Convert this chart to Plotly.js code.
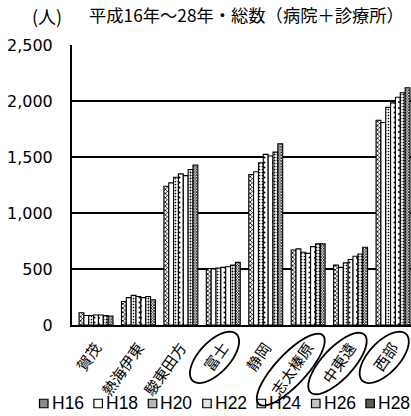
<!DOCTYPE html>
<html>
<head>
<meta charset="utf-8">
<script src="https://cdn.plot.ly/plotly-3.0.1.min.js"></script>
<style>
  html, body { margin: 0; padding: 0; background: #fff; }
  #chart { width: 411px; height: 416px; }
</style>
</head>
<body>
<div id="chart"></div>
<script>
// Areas (secondary medical districts), left to right
const areas = ['賀茂', '熱海伊東', '駿東田方', '富士', '静岡', '志太榛原', '中東遠', '西部'];
// Areas whose labels are ringed
const circledAreas = ['富士', '志太榛原', '中東遠', '西部'];

// Survey years
const seriesNames = ['H16', 'H18', 'H20', 'H22', 'H24', 'H26', 'H28'];

// Totals (hospitals + clinics), persons
const h16 = [110, 210, 1240, 505, 1345, 670, 535, 1830];
const h18 = [85, 245, 1270, 500, 1370, 680, 515, 1810];
const h20 = [85, 265, 1320, 510, 1450, 650, 555, 1945];
const h22 = [90, 255, 1350, 515, 1525, 640, 585, 1985];
const h24 = [90, 245, 1335, 520, 1510, 700, 615, 2035];
const h26 = [85, 255, 1390, 535, 1545, 725, 635, 2075];
const h28 = [80, 225, 1430, 560, 1620, 725, 695, 2120];

const yTicks = [0, 500, 1000, 1500, 2000, 2500];

const seriesValues = [h16, h18, h20, h22, h24, h26, h28];

// Fill textures of each year's bars
const patternStyles = [
  { shape: 'x', size: 3, solidity: 0.45 },
  { shape: '', size: 4, solidity: 0.1 },
  { shape: '.', size: 3, solidity: 0.25 },
  { shape: '.', size: 5, solidity: 0.12 },
  { shape: '.', size: 6, solidity: 0.08 },
  { shape: '.', size: 3, solidity: 0.35 },
  { shape: 'x', size: 2, solidity: 0.6 }
];
// Flat tones used for the small legend swatches
const swatchFills = ['#8a8a8a', '#ffffff', '#b5b5b5', '#e2e2e2', '#f0f0f0', '#c4c4c4', '#5a5a5a'];

const traces = seriesNames.map((name, i) => ({
  type: 'bar',
  name: name,
  x: areas,
  y: seriesValues[i],
  showlegend: false,
  marker: {
    color: '#ffffff',
    line: { color: '#000', width: 1.1 },
    pattern: {
      shape: patternStyles[i].shape,
      size: patternStyles[i].size,
      solidity: patternStyles[i].solidity,
      fgcolor: '#000',
      bgcolor: '#fff',
      fillmode: 'replace'
    }
  },
  hoverinfo: 'x+y+name'
}));

const W = 411, H = 416;
const M = { l: 72, r: 0, t: 45, b: 91 };
const plotW = W - M.l - M.r;
const plotH = H - M.t - M.b;
const pxToPaperX = px => (px - M.l) / plotW;
const pxToPaperY = py => 1 - (py - M.t) / plotH;

// Hand-built legend row: swatch + year label
const legendStart = 39.5, legendStep = 54.4, swatchSize = 8.5, legendY = 403.5;
const legendShapes = seriesNames.map((name, i) => {
  const x0 = legendStart + i * legendStep;
  return {
    type: 'rect', xref: 'paper', yref: 'paper',
    x0: pxToPaperX(x0), x1: pxToPaperX(x0 + swatchSize),
    y0: pxToPaperY(legendY - swatchSize / 2), y1: pxToPaperY(legendY + swatchSize / 2),
    line: { color: '#000', width: 1.2 },
    fillcolor: swatchFills[i]
  };
});
const legendLabels = seriesNames.map((name, i) => ({
  xref: 'paper', yref: 'paper',
  x: pxToPaperX(legendStart + i * legendStep + swatchSize + 1.5),
  y: pxToPaperY(legendY),
  xanchor: 'left', yanchor: 'middle',
  text: name, showarrow: false,
  font: { family: 'Liberation Sans, Arial, sans-serif', size: 17.5, color: '#000' }
}));

const layout = {
  width: W, height: H,
  margin: M,
  paper_bgcolor: '#fff', plot_bgcolor: '#fff',
  barmode: 'group',
  bargap: 0.2,
  bargroupgap: 0,
  showlegend: false,
  title: {
    text: '平成16年～28年・総数（病院＋診療所）',
    x: 89 / W, xanchor: 'left', xref: 'container',
    y: 1 - 16 / H, yanchor: 'middle', yref: 'container',
    font: { family: 'Noto Sans CJK JP, sans-serif', size: 17.3, color: '#000' }
  },
  xaxis: {
    type: 'category',
    range: [-0.566, 7.424],
    showline: true, linecolor: '#000', linewidth: 2,
    showgrid: false, zeroline: false,
    ticks: 'outside', ticklen: 6, tickcolor: 'rgba(0,0,0,0)',
    tickangle: -55,
    tickfont: { family: 'Noto Sans CJK JP, sans-serif', size: 15, color: '#000' },
    fixedrange: true
  },
  yaxis: {
    range: [0, 2502],
    tickvals: yTicks,
    tickformat: ',d',
    showline: true, linecolor: '#000', linewidth: 2,
    showgrid: true, gridcolor: '#000', gridwidth: 1.5,
    zeroline: false,
    ticks: 'outside', ticklen: 14, tickcolor: 'rgba(0,0,0,0)',
    tickfont: { family: 'DejaVu Sans, sans-serif', size: 16, color: '#000' },
    fixedrange: true
  },
  shapes: legendShapes,
  annotations: [
    {
      xref: 'paper', yref: 'paper',
      x: pxToPaperX(30), y: pxToPaperY(16),
      xanchor: 'left', yanchor: 'middle',
      text: '(人)', showarrow: false,
      font: { family: 'Noto Sans CJK JP, sans-serif', size: 18, color: '#000' }
    }
  ].concat(legendLabels)
};

const gd = document.getElementById('chart');
Plotly.newPlot(gd, traces, layout, { displayModeBar: false, staticPlot: true }).then(() => {
  // Ring the selected area labels with tilted ellipses that follow the text direction
  const gdRect = gd.getBoundingClientRect();
  const angle = (layout.xaxis.tickangle + 8) * Math.PI / 180;
  const fs = layout.xaxis.tickfont.size;
  const rings = [];
  gd.querySelectorAll('.xtick text').forEach(t => {
    const label = t.textContent;
    if (!circledAreas.includes(label)) return;
    const r = t.getBoundingClientRect();
    const cx = r.left + r.width / 2 - gdRect.left - 1;
    const cy = r.top + r.height / 2 - gdRect.top + 1;
    const a = t.getComputedTextLength() / 2 + 17;
    const b = fs / 2 + 8;
    const ca = Math.cos(angle), sa = Math.sin(angle);
    let d = '';
    for (let k = 0; k <= 48; k++) {
      const th = 2 * Math.PI * k / 48;
      const ex = a * Math.cos(th), ey = b * Math.sin(th);
      const px = cx + ex * ca - ey * sa;
      const py = cy + ex * sa + ey * ca;
      d += (k === 0 ? 'M' : 'L') + pxToPaperX(px).toFixed(5) + ',' + pxToPaperY(py).toFixed(5);
    }
    d += 'Z';
    rings.push({ type: 'path', xref: 'paper', yref: 'paper', path: d, line: { color: '#000', width: 1.8 } });
  });
  return Plotly.relayout(gd, { shapes: legendShapes.concat(rings) });
});
</script>
</body>
</html>
